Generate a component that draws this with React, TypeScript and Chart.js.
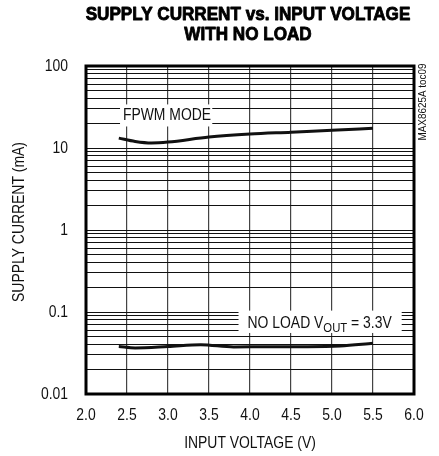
import React, { useEffect, useRef } from "react";
import { Chart, registerables } from "chart.js";

Chart.register(...registerables);

const TITLE_LINES = ["SUPPLY CURRENT vs. INPUT VOLTAGE", "WITH NO LOAD"];
const X_TITLE = "INPUT VOLTAGE (V)";
const Y_TITLE = "SUPPLY CURRENT (mA)";
const SIDE_NOTE = "MAX8625A toc09";

const X_MIN = 2.0;
const X_MAX = 6.0;
const X_STEP = 0.5;

const Y_DECADES = [0.01, 0.1, 1, 10, 100];
const Y_DECADE_LABELS = ["0.01", "0.1", "1", "10", "100"];
const Y_MULTIPLIERS = [1, 2, 3, 4, 5, 6, 7, 8, 9];

const FPWM_V = [2.4, 2.6, 2.8, 3.0, 3.5, 4.0, 4.5, 5.0, 5.5];
const FPWM_I = [13.2, 12.0, 11.5, 11.8, 13.6, 14.8, 15.6, 16.5, 17.4];

const NOLOAD_V = [2.4, 2.6, 3.0, 3.4, 3.8, 4.2, 4.7, 5.1, 5.5];
const NOLOAD_I = [0.038, 0.0365, 0.038, 0.04, 0.0375, 0.0378, 0.0378, 0.0385, 0.0415];

const FONT = "'Liberation Sans', Arial, sans-serif";
const SX = 0.87; // horizontal condensation to imitate a narrow face

function buildYGrid(): number[] {
  const out: number[] = [];
  for (let d = 0; d < Y_DECADES.length - 1; d++) {
    for (const m of Y_MULTIPLIERS) out.push(+(Y_DECADES[d] * m).toPrecision(3));
  }
  out.push(Y_DECADES[Y_DECADES.length - 1]);
  return out;
}

function narrowText(
  ctx: CanvasRenderingContext2D,
  text: string,
  x: number,
  y: number,
  font: string,
  align: CanvasTextAlign,
  baseline: CanvasTextBaseline,
  sx: number = SX,
  rotate = 0,
  stroke = 0
): number {
  ctx.save();
  ctx.font = font;
  ctx.textAlign = align;
  ctx.textBaseline = baseline;
  ctx.translate(x, y);
  if (rotate) ctx.rotate(rotate);
  ctx.scale(sx, 1);
  ctx.fillText(text, 0, 0);
  if (stroke) {
    ctx.lineWidth = stroke;
    ctx.strokeStyle = ctx.fillStyle as string;
    ctx.lineJoin = "round";
    ctx.strokeText(text, 0, 0);
  }
  const w = ctx.measureText(text).width * sx;
  ctx.restore();
  return w;
}

const overlayPlugin = {
  id: "overlay",
  beforeDatasetsDraw(chart: any) {
    const { ctx, scales } = chart;
    const xs = scales.x;
    const ys = scales.y;
    ctx.save();
    ctx.fillStyle = "#ffffff";
    const f1x = xs.getPixelForValue(2.415);
    const f2x = xs.getPixelForValue(3.54);
    const f1y = ys.getPixelForValue(34);
    const f2y = ys.getPixelForValue(18.3);
    ctx.fillRect(f1x, f1y, f2x - f1x, f2y - f1y);
    const n1x = xs.getPixelForValue(3.86);
    const n2x = xs.getPixelForValue(5.85);
    const n1y = ys.getPixelForValue(0.104);
    const n2y = ys.getPixelForValue(0.0555);
    ctx.fillRect(n1x, n1y, n2x - n1x, n2y - n1y);
    ctx.restore();
  },
  afterDraw(chart: any) {
    const { ctx, chartArea, scales } = chart;
    const xs = scales.x;
    const ys = scales.y;
    ctx.save();
    ctx.strokeStyle = "#000";
    ctx.lineWidth = 3;
    ctx.strokeRect(chartArea.left, chartArea.top, chartArea.right - chartArea.left, chartArea.bottom - chartArea.top);

    ctx.fillStyle = "#000";
    const cx = (chartArea.left + chartArea.right) / 2;
    narrowText(ctx, TITLE_LINES[0], cx - 2, 20, `bold 19px ${FONT}`, "center", "alphabetic", 0.9, 0, 0.9);
    narrowText(ctx, TITLE_LINES[1], cx - 2, 40, `bold 19px ${FONT}`, "center", "alphabetic", 0.9, 0, 0.9);

    ctx.fillStyle = "#111";
    for (const t of xs.ticks) {
      narrowText(ctx, Number(t.value).toFixed(1), xs.getPixelForValue(t.value), chartArea.bottom + 22, `16px ${FONT}`, "center", "middle");
    }
    Y_DECADES.forEach((d, i) => {
      narrowText(ctx, Y_DECADE_LABELS[i], chartArea.left - 18, ys.getPixelForValue(d) + 1, `16px ${FONT}`, "right", "middle");
    });

    narrowText(ctx, X_TITLE, cx, 444, `16px ${FONT}`, "center", "middle");
    narrowText(ctx, Y_TITLE, 20, 222, `16px ${FONT}`, "center", "middle", SX, -Math.PI / 2);
    narrowText(ctx, SIDE_NOTE, chartArea.right + 9, chartArea.top + 36, `11px ${FONT}`, "center", "middle", 0.9, -Math.PI / 2);

    const font16 = `16px ${FONT}`;
    narrowText(ctx, "FPWM MODE", xs.getPixelForValue(2.45), ys.getPixelForValue(21.8), font16, "left", "alphabetic");

    let tx = xs.getPixelForValue(3.97);
    const ty = ys.getPixelForValue(0.0635);
    tx += narrowText(ctx, "NO LOAD V", tx, ty, font16, "left", "alphabetic");
    tx += narrowText(ctx, "OUT", tx, ty + 4, `13px ${FONT}`, "left", "alphabetic");
    narrowText(ctx, " = 3.3V", tx, ty, font16, "left", "alphabetic");
    ctx.restore();
  },
};

export default function App() {
  const ref = useRef<HTMLCanvasElement | null>(null);
  useEffect(() => {
    if (!ref.current) return;
    const yGrid = buildYGrid();
    const chart = new Chart(ref.current, {
      type: "line",
      data: {
        datasets: [
          {
            label: "FPWM MODE",
            data: FPWM_V.map((v, i) => ({ x: v, y: FPWM_I[i] })),
            borderColor: "#111",
            borderWidth: 3,
            pointRadius: 0,
            cubicInterpolationMode: "monotone",
          },
          {
            label: "NO LOAD",
            data: NOLOAD_V.map((v, i) => ({ x: v, y: NOLOAD_I[i] })),
            borderColor: "#111",
            borderWidth: 3,
            pointRadius: 0,
            cubicInterpolationMode: "monotone",
          },
        ],
      },
      options: {
        animation: false,
        responsive: false,
        layout: { padding: { top: 66, right: 25, left: 0, bottom: 0 } },
        plugins: { legend: { display: false }, tooltip: { enabled: false }, title: { display: false } },
        scales: {
          x: {
            type: "linear",
            min: X_MIN,
            max: X_MAX,
            ticks: { stepSize: X_STEP, display: false },
            grid: { color: "#444", lineWidth: 1.2, drawTicks: false },
            border: { display: false },
            afterFit: (s: any) => {
              s.height = 62;
            },
          },
          y: {
            type: "logarithmic",
            min: Y_DECADES[0],
            max: Y_DECADES[Y_DECADES.length - 1],
            afterBuildTicks: (s: any) => {
              s.ticks = yGrid.map((v) => ({ value: v }));
            },
            ticks: { autoSkip: false, display: false },
            grid: { color: "#111", lineWidth: 1, drawTicks: false },
            border: { display: false },
            afterFit: (s: any) => {
              s.width = 86;
            },
          },
        },
      },
      plugins: [overlayPlugin],
    } as any);
    return () => chart.destroy();
  }, []);
  return (
    <div style={{ position: "fixed", left: 0, top: 0, width: 439, height: 456, background: "#fff" }}>
      <canvas ref={ref} width={439} height={456} style={{ display: "block" }} />
    </div>
  );
}
